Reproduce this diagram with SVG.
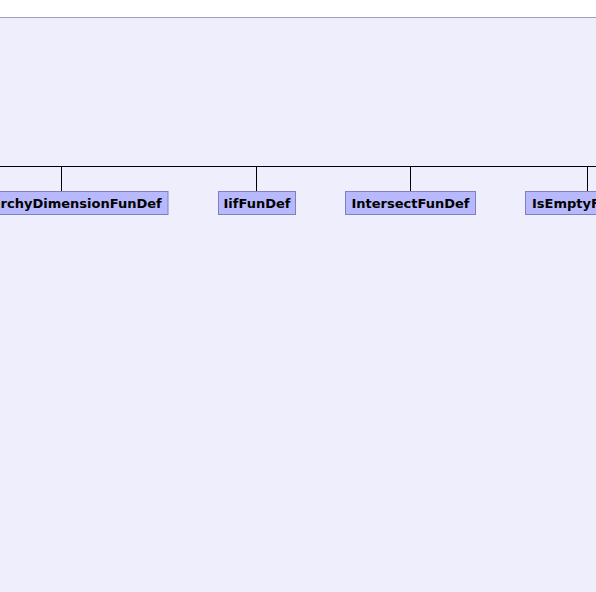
<svg xmlns="http://www.w3.org/2000/svg" width="596" height="592" viewBox="0 0 596 592">
<style>
.node rect{fill:#b8b8fc;stroke:#8080c0;stroke-width:1}
.node text{font-family:"DejaVu Sans",sans-serif;font-weight:bold;font-size:13px;fill:#000;text-anchor:middle}
.conn line{stroke:#000;stroke-width:1}
</style>
<rect x="0" y="0" width="596" height="592" fill="#ffffff"/>
<rect x="0" y="17.5" width="596" height="575" fill="#eeeefc"/>
<line x1="0" y1="17.5" x2="596" y2="17.5" stroke="#a0a0b0" stroke-width="1"/>
<g id="connectors" class="conn">
<line x1="0" y1="166.5" x2="596" y2="166.5"/>
<line x1="61.5" y1="166.5" x2="61.5" y2="191"/>
<line x1="256.5" y1="166.5" x2="256.5" y2="191"/>
<line x1="410.5" y1="166.5" x2="410.5" y2="191"/>
<line x1="587.5" y1="166.5" x2="587.5" y2="191"/>
</g>
<g id="HierarchyDimensionFunDef" class="node">
<rect x="-45" y="191.5" width="213" height="23"/>
<text x="61.5" y="207.5">HierarchyDimensionFunDef</text>
</g>
<g id="IifFunDef" class="node">
<rect x="218.5" y="191.5" width="77" height="23"/>
<text x="257" y="207.5">IifFunDef</text>
</g>
<g id="IntersectFunDef" class="node">
<rect x="345.5" y="191.5" width="130" height="23"/>
<text x="410.5" y="207.5">IntersectFunDef</text>
</g>
<g id="IsEmptyFunDef" class="node">
<rect x="525.5" y="191.5" width="124" height="23"/>
<text x="587.5" y="207.5">IsEmptyFunDef</text>
</g>
</svg>
